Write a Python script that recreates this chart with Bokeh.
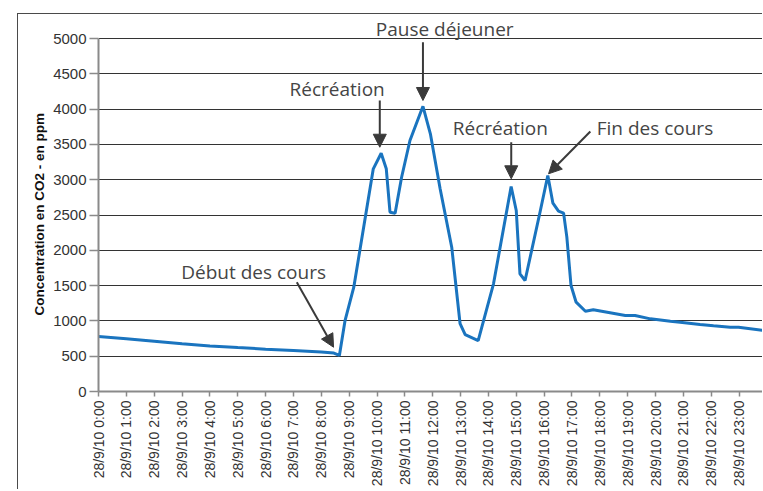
import math
from bokeh.plotting import figure
from bokeh.models import (Range1d, FixedTicker, Label, Arrow, NormalHead,
                          ColumnDataSource, Title, InlineStyleSheet)
from bokeh.embed import file_html
from bokeh.resources import INLINE

# ---------------- data ----------------
times = ["00:00", "01:00", "02:00", "03:00", "04:00", "05:00", "06:00", "07:00",
         "08:00", "08:27", "08:39", "08:51", "09:10", "09:52", "10:09", "10:20",
         "10:28", "10:39", "10:53", "11:11", "11:39", "11:55", "12:16", "12:41",
         "12:59", "13:10", "13:38", "14:11", "14:49", "15:00", "15:08", "15:19",
         "15:52", "16:08", "16:19", "16:31", "16:42", "16:49", "16:58", "17:09",
         "17:29", "17:46", "18:22", "18:55", "19:16", "19:49", "20:32", "20:53",
         "21:36", "22:05", "22:41", "22:59", "23:52", "23:59"]
co2_ppm = [780, 748, 712, 675, 645, 622, 600, 580,
           560, 545, 510, 1000, 1477, 3154, 3375, 3154,
           2540, 2526, 3035, 3555, 4040, 3650, 2871, 2044,
           960, 807, 722, 1525, 2904, 2564, 1667, 1572,
           2564, 3060, 2667, 2554, 2526, 2186, 1501, 1265,
           1137, 1157, 1115, 1076, 1076, 1029, 996, 982,
           949, 930, 911, 911, 864, 855]

tick_hours = list(range(24))
tick_labels = ["28/9/10 %d:00" % h for h in tick_hours]
y_ticks = list(range(0, 5001, 500))
y_label = "Concentration en CO2 - en ppm"

ann_texts = ["Pause déjeuner", "Récréation", "Récréation", "Fin des cours", "Début des cours"]
ann_text_x = [12.43, 8.57, 14.43, 19.98, 5.57]
ann_text_y = [5140, 4290, 3735, 3735, 1695]
arrow_x0 = [11.65, 10.10, 14.82, 17.66, 7.12]
arrow_y0 = [4948, 4122, 3531, 3683, 1548]
arrow_x1 = [11.65, 10.10, 14.82, 16.16, 8.44]
arrow_y1 = [4122, 3460, 3013, 3084, 627]


def to_hours(t):
    h, m = t.split(":")
    return int(h) + int(m) / 60.0


hours = [to_hours(t) for t in times]

# ---------------- figure ----------------
W, H = 762, 489
LEFT, BOTTOM = 98, 98
frame_w = W - LEFT
frame_h = H - BOTTOM              # frame spans from canvas top to the 0 line
px_per_ppm = 353.0 / 5000.0       # 5000 ppm span on 353 px
y_top = frame_h / px_per_ppm
px_per_hour = 27.85
x_end = frame_w / px_per_hour

border_css = InlineStyleSheet(css="""
:host::after {
  content: "";
  position: absolute;
  left: 17px; top: 13px; right: 0; bottom: 0;
  border-left: 1.5px solid #4a4a4a;
  border-top: 1.5px solid #4a4a4a;
  pointer-events: none;
}
""")

p = figure(frame_width=frame_w, frame_height=frame_h, output_backend="svg",
           toolbar_location=None,
           x_range=Range1d(0, x_end), y_range=Range1d(0, y_top),
           min_border_left=LEFT, min_border_right=0, min_border_top=0,
           min_border_bottom=BOTTOM, stylesheets=[border_css])
p.outline_line_color = None
p.background_fill_color = "white"
p.border_fill_color = "white"

src = ColumnDataSource(dict(x=hours, y=co2_ppm))
p.line("x", "y", source=src, line_color="#1a74bf", line_width=3)

# axes
p.xaxis.ticker = FixedTicker(ticks=tick_hours)
p.xaxis.major_label_overrides = {h: l for h, l in zip(tick_hours, tick_labels)}
p.xaxis.major_label_orientation = math.pi / 2
p.yaxis.ticker = FixedTicker(ticks=y_ticks)
p.yaxis.bounds = (0, 5000)
for ax in (p.xaxis[0], p.yaxis[0]):
    ax.axis_line_color = "#8a8a8a"
    ax.axis_line_width = 2
    ax.major_tick_line_color = "#8a8a8a"
    ax.major_tick_line_width = 1.5
    ax.minor_tick_line_color = None
    ax.major_tick_in = 0
    ax.major_label_text_font = "Liberation Sans"
    ax.major_label_text_color = "#333333"
p.xaxis.major_label_text_font_size = "14px"
p.yaxis.major_label_text_font_size = "15px"
p.xaxis.major_tick_out = 5
p.xaxis.major_label_standoff = 4
p.yaxis.major_tick_out = 9
p.yaxis.major_label_standoff = 3

p.add_layout(Title(text=y_label, align="left", offset=76, standoff=8,
                   text_font="Liberation Sans", text_font_style="bold",
                   text_font_size="13.5px", text_color="#111111"), "left")

p.xgrid.grid_line_color = None
p.ygrid.ticker = FixedTicker(ticks=y_ticks[1:])
p.ygrid.grid_line_color = "#333333"
p.ygrid.grid_line_width = 1

# annotations
for t, x, y in zip(ann_texts, ann_text_x, ann_text_y):
    p.add_layout(Label(x=x, y=y, text=t, text_align="center",
                       text_baseline="alphabetic", text_font="Open Sans",
                       text_font_size="19px", text_color="#454545"))
for x0, y0, x1, y1 in zip(arrow_x0, arrow_y0, arrow_x1, arrow_y1):
    p.add_layout(Arrow(x_start=x0, y_start=y0, x_end=x1, y_end=y1,
                       line_color="#3a3a3a", line_width=2,
                       end=NormalHead(size=13, fill_color="#3a3a3a",
                                      line_color="#3a3a3a", line_width=1)))

open("out.html", "w").write(file_html(p, INLINE))
